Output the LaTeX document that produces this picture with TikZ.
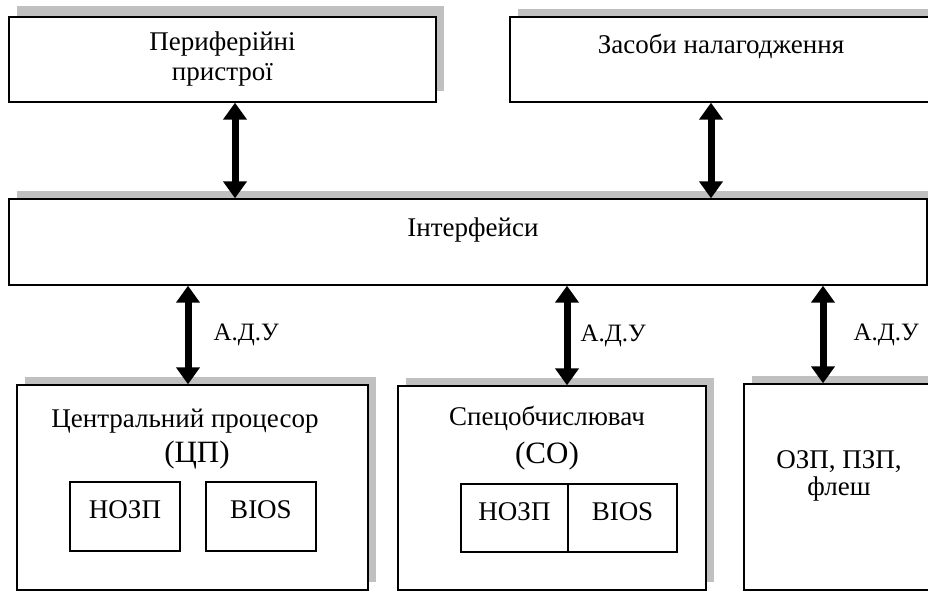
\documentclass[tikz,border=0pt]{standalone}
\usepackage{fontspec}
\setmainfont{Liberation Serif}
\usetikzlibrary{arrows.meta,positioning,shadows}
\definecolor{shadowgray}{RGB}{192,192,192}

\tikzset{
  block/.style={draw, rectangle, fill=white, line width=1.4pt, inner sep=0pt,
    general shadow={fill=shadowgray, shadow xshift=8pt, shadow yshift=#1}},
  block/.default=8pt,
  chip/.style={draw, rectangle, line width=1.3pt, inner sep=0pt, outer sep=0pt,
    text height=36pt, text depth=33pt, font=\fontsize{27}{30}\selectfont},
  txt/.style={inner sep=0pt, align=center, font=\fontsize{27}{30}\selectfont},
  bigtxt/.style={inner sep=0pt, font=\fontsize{31}{36}\selectfont},
  adu/.style={inner sep=0pt, font=\fontsize{25}{30}\selectfont},
  bus/.style={{Triangle[width=23pt,length=17pt]}-{Triangle[width=23pt,length=17pt]},
    line width=7pt}
}

\begin{document}
\begin{tikzpicture}[x=1pt, y=-1pt]
\clip (0,0) rectangle (928,592);

% upper row
\node[block=11pt, minimum width=427pt, minimum height=85pt, txt] at (222.5,59.5) (periph)
  {Периферійні\\пристрої};
\node[block, minimum width=424pt, minimum height=85pt] at (722,59.5) (debug) {};
\node[txt, anchor=base] at (721,53) (debuglbl) {Засоби налагодження};

% bus
\node[block, minimum width=918pt, minimum height=86pt] at (468,242) (iface) {};
\node[txt, anchor=base] at (473,236) (ifacelbl) {Інтерфейси};

% lower row
\node[block, minimum width=351pt, minimum height=205pt] at (192.5,487.5) (cpu) {};
\node[txt, anchor=base] at (185,427) (cpulbl) {Центральний процесор};
\node[bigtxt, anchor=base] at (197,462) (cpubr) {(ЦП)};
\node[chip, minimum width=110pt] at (125,516.5) (cpuram) {НОЗП};
\node[chip, minimum width=110pt] at (261,516.5) (cpubios) {BIOS};

\node[block, minimum width=308pt, minimum height=204pt] at (552,488) (spec) {};
\node[txt, anchor=base] at (547,425) (speclbl) {Спецобчислювач};
\node[bigtxt, anchor=base] at (547,463) (specbr) {(СО)};
\node[chip, minimum width=107pt, text depth=32pt] at (514.5,518) (specram) {НОЗП};
\node[chip, minimum width=109pt, text depth=32pt, right=0pt of specram] (specbios) {BIOS};

\node[block, minimum width=190pt, minimum height=206pt] at (839,487) (mem) {};
\node[txt, font=\fontsize{27}{27}\selectfont] at (839,476) (memlbl) {ОЗП, ПЗП,\\флеш};

% arrows
\draw[bus] ([xshift=12.5pt]periph.south) -- ([xshift=12.5pt]periph.south |- iface.north);
\draw[bus] ([xshift=-11pt]debug.south) -- ([xshift=-11pt]debug.south |- iface.north);

\draw[bus] ([xshift=-4.5pt]cpu.north |- iface.south) -- node[adu, right=22pt] {А.Д.У}
  ([xshift=-4.5pt]cpu.north);
\draw[bus] ([xshift=15pt]spec.north |- iface.south) -- node[adu, right=10pt] {А.Д.У}
  ([xshift=15pt]spec.north);
\draw[bus] ([xshift=-16pt]mem.north |- iface.south) -- node[adu, right=27pt] {А.Д.У}
  ([xshift=-16pt]mem.north);
\end{tikzpicture}
\end{document}
